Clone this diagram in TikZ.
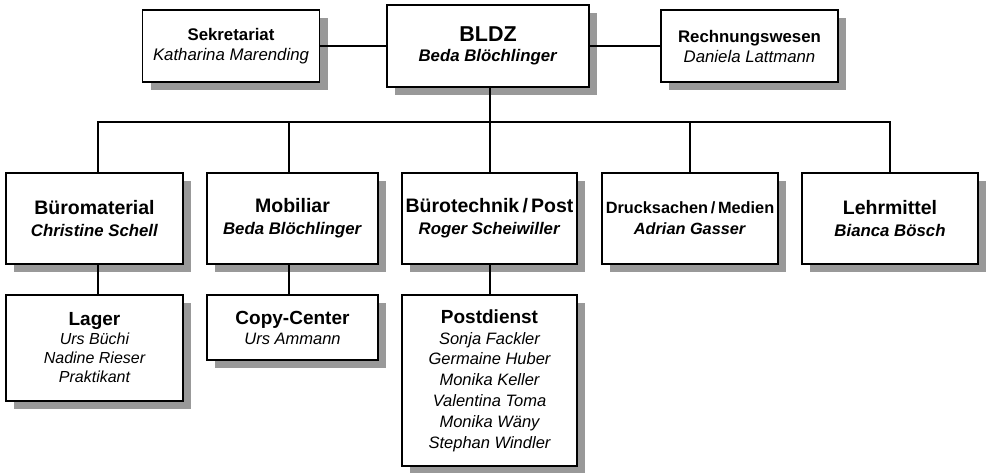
\documentclass[tikz,border=0pt]{standalone}
\usepackage{fontspec}
\setmainfont{Liberation Sans}
\usetikzlibrary{shadows}
\tikzset{
  box/.style={draw, line width=1.6pt, fill=white, inner sep=0pt, align=center,
    drop shadow={shadow xshift=8pt, shadow yshift=-8pt, fill=black!40, opacity=1}},
  link/.style={line width=2.2pt},
}
\newcommand{\boxtitle}[2]{{\fontsize{#1}{#1}\selectfont\bfseries #2}}
\begin{document}
\begin{tikzpicture}[x=1pt,y=-1pt]
\useasboundingbox (0,0) rectangle (990,472);
% top row
\node[box, minimum width=177pt, minimum height=72pt, font=\fontsize{16.8}{20}\selectfont] (sek) at (231,46)
  {\boxtitle{16.8}{Sekretariat}\\\textit{Katharina Marending}};
\node[box, minimum width=202pt, minimum height=82pt, font=\fontsize{16.8}{20}\selectfont] (bldz) at (488,46)
  {\boxtitle{21.5}{BLDZ}\\\textbf{\textit{Beda Blöchlinger}}};
\node[box, minimum width=177pt, minimum height=72pt, font=\fontsize{16.8}{20}\selectfont] (rw) at (749.5,46)
  {\boxtitle{16.8}{Rechnungswesen}\\\textit{Daniela Lattmann}};
% second row
\node[box, minimum width=177pt, minimum height=91pt, font=\fontsize{16.8}{22}\selectfont] (bm) at (94.5,218.5)
  {\boxtitle{19.5}{Büromaterial}\\\textbf{\textit{Christine Schell}}};
\node[box, minimum width=171pt, minimum height=91pt, font=\fontsize{16.8}{22}\selectfont] (mob) at (292.5,218.5)
  {\boxtitle{19.5}{Mobiliar}\\\textbf{\textit{Beda Blöchlinger}}};
\node[box, minimum width=175pt, minimum height=91pt, font=\fontsize{16.8}{22}\selectfont] (bt) at (489.5,218.5)
  {\boxtitle{19.5}{Bürotechnik\,/\,Post}\\\textbf{\textit{Roger Scheiwiller}}};
\node[box, minimum width=176pt, minimum height=91pt, font=\fontsize{16.3}{21}\selectfont] (dm) at (690,218.5)
  {\boxtitle{16.3}{Drucksachen\,/\,Medien}\\\textbf{\textit{Adrian Gasser}}};
\node[box, minimum width=176pt, minimum height=91pt, font=\fontsize{16.8}{22}\selectfont] (lm) at (890,218.5)
  {\boxtitle{19.5}{Lehrmittel}\\\textbf{\textit{Bianca Bösch}}};
% third row
\node[box, minimum width=177pt, minimum height=106pt, font=\fontsize{16}{19}\selectfont\itshape] (lag) at (94.5,348)
  {\boxtitle{19}{\upshape Lager}\\Urs Büchi\\Nadine Rieser\\Praktikant};
\node[box, minimum width=171pt, minimum height=65pt, font=\fontsize{16.5}{20}\selectfont\itshape] (cc) at (292.5,327.5)
  {\boxtitle{19}{\upshape Copy-Center}\\Urs Ammann};
\node[box, minimum width=175pt, minimum height=171pt, font=\fontsize{16.5}{20.8}\selectfont\itshape] (pd) at (489.5,380.5)
  {\boxtitle{19}{\upshape Postdienst}\\Sonja Fackler\\Germaine Huber\\Monika Keller\\Valentina Toma\\Monika Wäny\\Stephan Windler};
% connectors
\coordinate (bus) at (490,122);
\draw[link] (sek) -- (bldz);
\draw[link] (bldz) -- (rw);
\draw[link] (bldz.south -| bus) -- (bus);
\draw[link] ([xshift=3.5pt]bm.north) -- ([xshift=3.5pt]bm.north |- bus) -- (lm.north |- bus) -- (lm.north);
\draw[link] ([xshift=-3.5pt]mob.north) -- ([xshift=-3.5pt]mob.north |- bus);
\draw[link] (bt.north -| bus) -- (bus);
\draw[link] (dm.north) -- (dm.north |- bus);
\draw[link] ([xshift=3.5pt]bm.south) -- ([xshift=3.5pt]lag.north);
\draw[link] ([xshift=-3.5pt]mob.south) -- ([xshift=-3.5pt]cc.north);
\draw[link] (bt.south -| bus) -- (pd.north -| bus);
\end{tikzpicture}
\end{document}
